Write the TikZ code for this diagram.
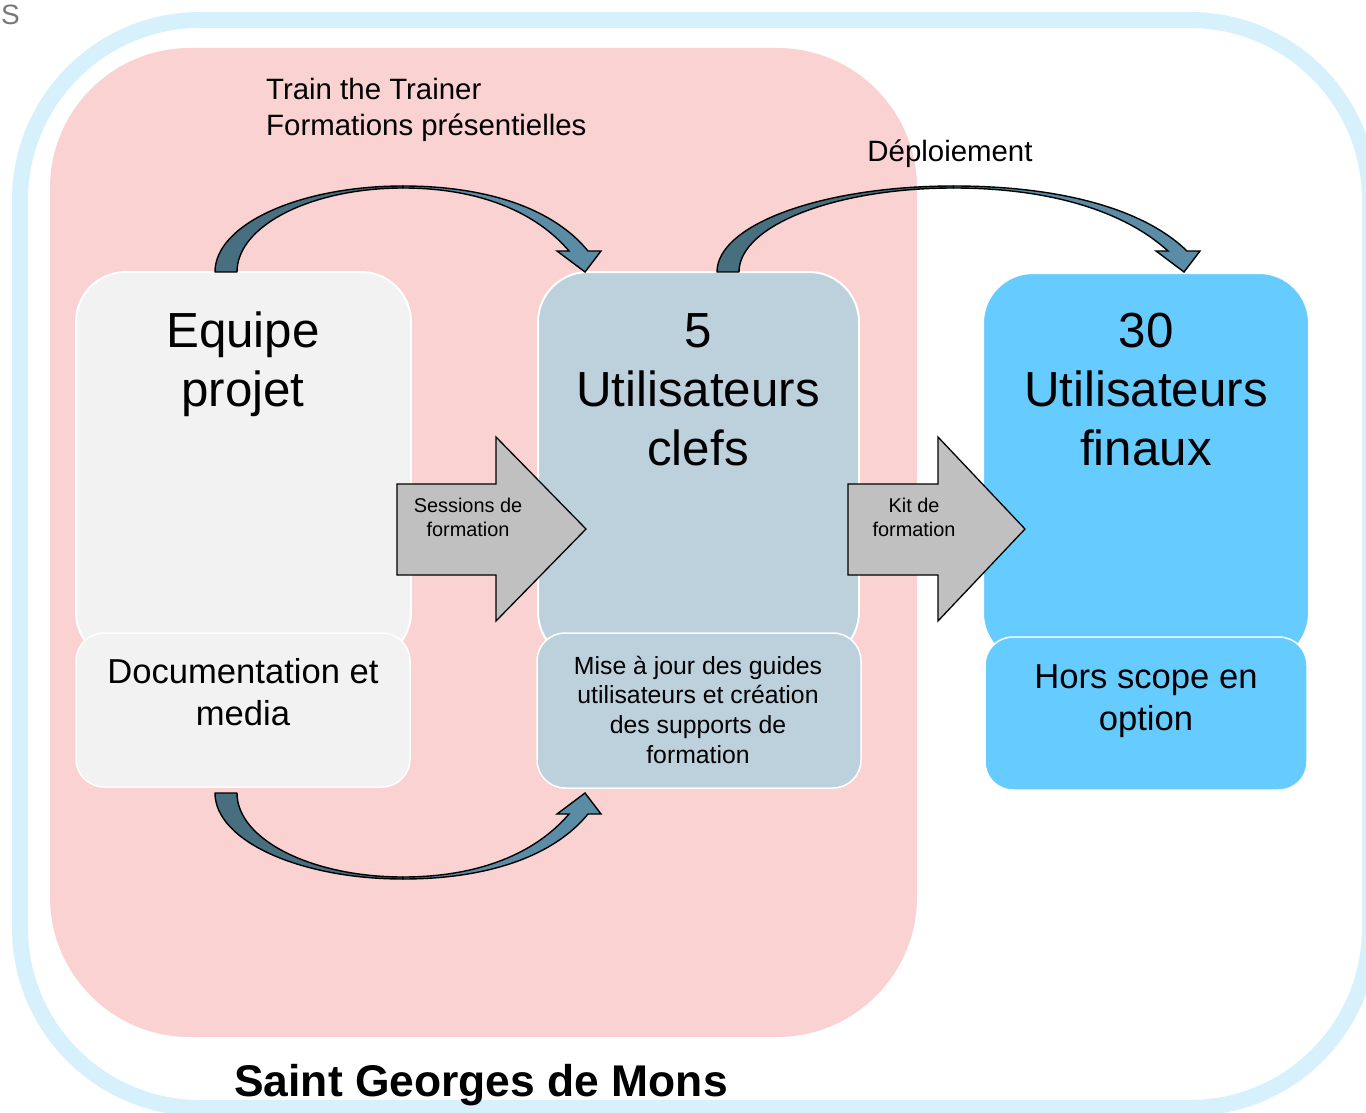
\documentclass[tikz,border=0pt]{standalone}
\usepackage{fontspec}
\setmainfont{Liberation Sans}
\definecolor{pinkbg}{RGB}{250,210,210}
\definecolor{framec}{RGB}{214,240,252}
\definecolor{boxgray}{RGB}{242,242,242}
\definecolor{boxblue}{RGB}{189,209,221}
\definecolor{boxcyan}{RGB}{102,204,255}
\definecolor{arrdark}{RGB}{71,111,128}
\definecolor{arrlight}{RGB}{90,140,166}
\definecolor{blockgray}{RGB}{192,192,192}
\definecolor{labgray}{RGB}{120,120,120}
\tikzset{
  mainbox/.style={draw=white, line width=2pt, rounded corners=50pt, inner sep=0pt},
  subbox/.style={draw=white, line width=1.5pt, rounded corners=28pt, inner sep=0pt},
  blockarr/.style={draw=black, line width=1.3pt, fill=blockgray, line join=miter},
  cadark/.style={draw=black, line width=1.4pt, fill=arrdark, line join=round},
  calight/.style={draw=black, line width=1.4pt, fill=arrlight, line join=miter},
  bigtxt/.style={font=\fontsize{49.3pt}{59pt}\selectfont, align=center, anchor=base, inner sep=0pt},
  midtxt/.style={font=\fontsize{34.6pt}{42pt}\selectfont, align=center, anchor=base, inner sep=0pt},
  smalltxt/.style={font=\fontsize{24.8pt}{29.6pt}\selectfont, align=center, anchor=base, inner sep=0pt},
  arrtxt/.style={font=\fontsize{19.9pt}{24pt}\selectfont, align=center, anchor=base, inner sep=0pt},
  toptxt/.style={font=\fontsize{29.4pt}{36pt}\selectfont, anchor=base, inner sep=0pt},
}
\newcommand\curvarr[4]{%
  \begin{scope}[shift={(#1,#2)}, yscale=#4]
    \pgfmathsetmacro\cA{#3/2+3}
    \pgfmathsetmacro\cOa{0.4477*\cA}
    \pgfmathsetmacro\cIa{22+0.4477*(\cA-22)}
    \pgfmathsetmacro\cHo{#3+3}
    \pgfmathsetmacro\cHi{#3-16}
    \pgfmathsetmacro\cRo{\cA+0.47*(\cHo-\cA)}
    \pgfmathsetmacro\cRoo{\cHo-0.18*(\cHo-\cA)}
    \pgfmathsetmacro\cRi{\cHi-0.2*(\cHi-\cA)}
    \pgfmathsetmacro\cRii{\cA+0.46*(\cHi-\cA)}
    \pgfmathsetmacro\cBl{#3-28}
    \pgfmathsetmacro\cBr{#3+16}
    \draw[cadark] (0,0) .. controls (0,-47.5) and (\cOa,-86) .. (\cA,-86)
      -- (\cA,-84) .. controls (\cIa,-84) and (22,-46.4) .. (22,0) -- cycle;
    \draw[calight] (\cA,-86) .. controls (\cRo,-86) and (\cRoo,-62) .. (\cHo,-21)
      -- (\cBr,-21) -- (#3,0) -- (\cBl,-21) -- (\cHi,-21)
      .. controls (\cRi,-60) and (\cRii,-84) .. (\cA,-84) -- cycle;
  \end{scope}}
\begin{document}
\begin{tikzpicture}[x=1pt,y=-1pt]
  \path[use as bounding box] (0,0) rectangle (1366,1113);
  \clip (0,0) rectangle (1366,1113);
  \fill[white] (0,0) rectangle (1366,1113);
  % outer frame and pink zone
  \draw[framec, line width=16pt, rounded corners=180pt] (20,20) rectangle (1370,1108);
  \fill[pinkbg, rounded corners=140pt] (50,48) rectangle (917,1037);
  % main boxes
  \node[mainbox, fill=boxgray, minimum width=335pt, minimum height=390pt] (eq) at (243.5,467) {};
  \node[mainbox, fill=boxblue, minimum width=321pt, minimum height=390pt] (uc) at (698.5,467) {};
  \node[mainbox, fill=boxcyan, minimum width=326pt, minimum height=390pt] (uf) at (1146,468) {};
  % sub boxes
  \node[subbox, fill=boxgray, minimum width=334pt, minimum height=154pt] (doc) at (243,710) {};
  \node[subbox, fill=boxblue, minimum width=324pt, minimum height=155pt] (maj) at (699,710.5) {};
  \node[subbox, fill=boxcyan, minimum width=322pt, minimum height=153pt] (hs) at (1146,713.5) {};
  % texts in boxes (anchor = baseline of the last line)
  \node[bigtxt] (teq) at (243,406) {Equipe\\projet};
  \node[bigtxt] (tuc) at (698,465) {5\\Utilisateurs\\clefs};
  \node[bigtxt] (tuf) at (1146,465) {30\\Utilisateurs\\finaux};
  \node[midtxt] (tdoc) at (243,725) {Documentation et\\media};
  \node[smalltxt] (tmaj) at (698,763) {Mise à jour des guides\\utilisateurs et création\\des supports de\\formation};
  \node[midtxt] (ths) at (1146,730) {Hors scope en\\option};
  % block arrows
  \coordinate (ba1) at (397,484);
  \coordinate (ba2) at (848,484);
  \draw[blockarr] (ba1) -- ++(99,0) -- ++(0,-47) -- ++(90,92) -- ++(-90,92) -- ++(0,-46) -- ++(-99,0) -- cycle;
  \draw[blockarr] (ba2) -- ++(90,0) -- ++(0,-47) -- ++(87,92) -- ++(-87,92) -- ++(0,-46) -- ++(-90,0) -- cycle;
  \node[arrtxt] (tsess) at (468,536) {Sessions de\\formation};
  \node[arrtxt] (tkit) at (914,536) {Kit de\\formation};
  % curved arrows
  \curvarr{215}{272}{370}{1}
  \curvarr{215}{793}{370}{-1}
  \curvarr{717}{272}{467}{1}
  % labels
  \node[toptxt, anchor=base west] (ttt) at (266,100) {Train the Trainer};
  \node[toptxt, anchor=base west] (tfp) at (266,136) {Formations présentielles};
  \node[toptxt] (tdep) at (950,162) {Déploiement};
  \node[font=\bfseries\fontsize{44.4pt}{50pt}\selectfont, anchor=base, inner sep=0pt] (tsgm) at (481,1096) {Saint Georges de Mons};
  \node[font=\fontsize{28pt}{32pt}\selectfont, text=labgray, anchor=base east, inner sep=0pt] (ts) at (20,25) {S};
\end{tikzpicture}
\end{document}
